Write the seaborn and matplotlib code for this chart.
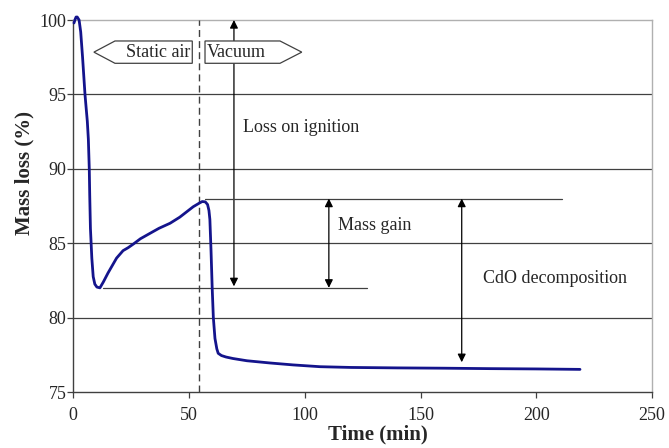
import matplotlib
matplotlib.use("Agg")
import matplotlib.pyplot as plt
import seaborn as sns
import pandas as pd
from matplotlib.patches import Polygon

time_min = [0.3, 0.8, 1.2, 1.7, 2.5, 3.2, 4.0, 5.05, 5.6, 6.05, 6.5, 6.9, 7.1, 7.4, 8.0, 8.6, 9.3, 10.2, 11.5, 13.0, 15.0, 18.7, 21.5, 23.7, 26.0, 29.0, 33.1, 37.0, 41.8, 46.0, 51.8, 54.5, 55.7, 57.0, 58.0, 58.6, 59.0, 59.5, 60.0, 60.5, 61.2, 62.0, 62.6, 64.0, 66.0, 69.0, 75.0, 85.0, 95.0, 106.6, 120.0, 140.0, 160.0, 180.0, 200.0, 218.9]
mass_pct = [99.8, 100.05, 100.2, 100.2, 100.0, 99.2, 97.5, 95.0, 94.0, 93.2, 92.0, 90.0, 88.2, 86.0, 84.0, 82.75, 82.25, 82.05, 82.0, 82.4, 83.0, 84.0, 84.5, 84.7, 84.95, 85.3, 85.66, 86.0, 86.34, 86.75, 87.45, 87.7, 87.8, 87.78, 87.6, 87.2, 86.6, 84.5, 82.0, 80.0, 78.6, 77.9, 77.6, 77.45, 77.35, 77.25, 77.1, 76.95, 76.82, 76.7, 76.65, 76.62, 76.6, 76.57, 76.55, 76.52]

x_ticks = [0, 50, 100, 150, 200, 250]
y_ticks = [75, 80, 85, 90, 95, 100]
x_label = "Time (min)"
y_label = "Mass loss (%)"

sns.set_style("white")
plt.rcParams['font.family'] = ['Liberation Serif', 'DejaVu Serif']

fig = plt.figure(figsize=(6.69, 4.48), dpi=100)
ax = fig.add_axes([73.3 / 669, 1 - 392 / 448, (652 - 73.3) / 669, (392 - 20) / 448])

df = pd.DataFrame({"t": time_min, "m": mass_pct})

# gridlines
for yv in y_ticks[1:-1]:
    ax.axhline(yv, color="#404040", lw=0.9, zorder=1)

sns.lineplot(data=df, x="t", y="m", ax=ax, color="#14148c", lw=2.0, zorder=5,
             estimator=None, sort=False, clip_on=False)

ax.set_xlim(0, 250)
ax.set_ylim(75, 100)
ax.set_xticks(x_ticks)
ax.set_yticks(y_ticks)
ax.set_xlabel("")
ax.set_ylabel("")
fig.text(377.5 / 669, 1 - 434 / 448, x_label, ha="center", va="center", fontsize=15, fontweight="bold")
fig.text(24.5 / 669, 1 - 173 / 448, y_label, ha="center", va="center", rotation=90, fontsize=15, fontweight="bold")
ax.tick_params(axis="both", labelsize=13, direction="out", length=4, width=0.9, color="#404040")
ax.tick_params(axis="y", pad=1)
ax.tick_params(axis="x", pad=7)
ax.tick_params(left=True, bottom=True)
for lbl in ax.get_xticklabels():
    lbl.set_x(lbl.get_position()[0])

for side in ["left", "bottom"]:
    ax.spines[side].set_color("#404040")
    ax.spines[side].set_linewidth(1.0)
for side in ["top", "right"]:
    ax.spines[side].set_color("#b0b0b0")
    ax.spines[side].set_linewidth(1.0)

# dashed divider
ax.plot([54.3, 54.3], [75, 100], ls=(0, (5, 3)), color="#404040", lw=1.0, zorder=3)

# Static air pointer box
static_poly = Polygon([[8.9, 97.84], [18.0, 98.59], [51.4, 98.59], [51.4, 97.09], [18.0, 97.09]],
                      closed=True, fill=True, facecolor="white", edgecolor="#404040", lw=0.9, zorder=4)
ax.add_patch(static_poly)
ax.text(50.6, 97.84, "Static air", ha="right", va="center", fontsize=13, zorder=6)

vac_poly = Polygon([[56.9, 98.59], [89.3, 98.59], [98.7, 97.84], [89.3, 97.09], [56.9, 97.09]],
                   closed=True, fill=True, facecolor="white", edgecolor="#404040", lw=0.9, zorder=4)
ax.add_patch(vac_poly)
ax.text(57.6, 97.84, "Vacuum", ha="left", va="center", fontsize=13, zorder=6)

both_kw = dict(arrowstyle="<|-|>", color="black", lw=0.9, mutation_scale=12, shrinkA=0, shrinkB=0)

# Loss on ignition arrow
ax.annotate("", xy=(69.4, 100.0), xytext=(69.4, 82.1), arrowprops=both_kw, zorder=3)
ax.text(73.5, 92.8, "Loss on ignition", ha="left", va="center", fontsize=13)

# reference lines
ax.plot([13.0, 126.7], [82.0, 82.0], color="#404040", lw=0.9, zorder=3)
ax.plot([57.0, 211.0], [88.0, 88.0], color="#404040", lw=0.9, zorder=3)

# Mass gain
ax.annotate("", xy=(110.4, 88.0), xytext=(110.4, 82.0), arrowprops=both_kw, zorder=3)
ax.text(114.3, 86.2, "Mass gain", ha="left", va="center", fontsize=13)

# CdO decomposition
ax.annotate("", xy=(167.8, 88.0), xytext=(167.8, 77.0), arrowprops=both_kw, zorder=3)
ax.text(176.8, 82.6, "CdO decomposition", ha="left", va="center", fontsize=13)

fig.savefig("out.png", dpi=100)
